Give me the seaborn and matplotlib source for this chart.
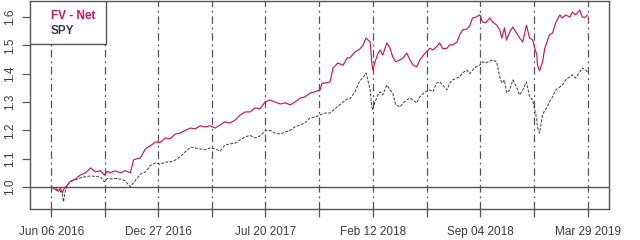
import matplotlib
matplotlib.use("Agg")
import matplotlib.pyplot as plt
import seaborn as sns
import pandas as pd
from matplotlib.patches import Rectangle

dates = [
    "2016-06-06", "2016-06-14", "2016-06-19", "2016-06-23", "2016-06-27", "2016-06-29", "2016-07-03",
    "2016-07-08", "2016-07-12", "2016-07-22", "2016-07-31", "2016-08-10", "2016-08-20", "2016-08-29",
    "2016-09-08", "2016-09-15", "2016-09-21", "2016-09-27", "2016-10-06", "2016-10-16", "2016-10-25",
    "2016-11-04", "2016-11-10", "2016-11-17", "2016-11-23", "2016-12-03", "2016-12-12", "2016-12-22",
    "2016-12-31", "2017-01-10", "2017-01-19", "2017-01-29", "2017-02-07", "2017-02-17", "2017-02-27",
    "2017-03-08", "2017-03-18", "2017-03-27", "2017-04-06", "2017-04-15", "2017-04-25", "2017-05-04",
    "2017-05-14", "2017-05-24", "2017-06-02", "2017-06-12", "2017-06-21", "2017-07-01", "2017-07-10",
    "2017-07-20", "2017-07-29", "2017-08-08", "2017-08-18", "2017-08-27", "2017-09-06", "2017-09-15",
    "2017-09-25", "2017-10-04", "2017-10-14", "2017-10-23", "2017-11-02", "2017-11-06", "2017-11-12",
    "2017-11-21", "2017-11-27", "2017-12-06", "2017-12-16", "2017-12-24", "2017-12-29", "2018-01-08",
    "2018-01-17", "2018-01-23", "2018-01-29", "2018-02-06", "2018-02-09", "2018-02-11", "2018-02-15",
    "2018-02-21", "2018-02-25", "2018-03-02", "2018-03-10", "2018-03-16", "2018-03-21", "2018-03-27",
    "2018-04-04", "2018-04-10", "2018-04-17", "2018-04-23", "2018-04-29", "2018-05-06", "2018-05-12",
    "2018-05-22", "2018-05-31", "2018-06-06", "2018-06-13", "2018-06-19", "2018-06-25", "2018-07-03",
    "2018-07-08", "2018-07-14", "2018-07-22", "2018-07-27", "2018-08-02", "2018-08-10", "2018-08-15",
    "2018-08-21", "2018-08-27", "2018-09-04", "2018-09-09", "2018-09-15", "2018-09-23", "2018-09-28",
    "2018-10-06", "2018-10-12", "2018-10-16", "2018-10-21", "2018-10-25", "2018-10-31", "2018-11-06",
    "2018-11-13", "2018-11-19", "2018-11-25", "2018-12-02", "2018-12-08", "2018-12-14", "2018-12-18",
    "2018-12-22", "2018-12-23", "2018-12-27", "2019-01-02", "2019-01-06", "2019-01-10", "2019-01-15",
    "2019-01-21", "2019-01-27", "2019-02-04", "2019-02-09", "2019-02-15", "2019-02-23", "2019-02-28",
    "2019-03-06", "2019-03-14", "2019-03-19", "2019-03-25", "2019-03-29",
]

fv_net = [
    1.000, 0.990, 0.985, 0.995, 0.980, 0.990, 1.000,
    1.010, 1.020, 1.028, 1.042, 1.050, 1.067, 1.053,
    1.057, 1.042, 1.055, 1.050, 1.057, 1.050, 1.057,
    1.050, 1.095, 1.100, 1.102, 1.135, 1.145, 1.159,
    1.157, 1.173, 1.170, 1.187, 1.190, 1.200, 1.208,
    1.205, 1.216, 1.212, 1.216, 1.208, 1.219, 1.230,
    1.226, 1.237, 1.254, 1.265, 1.265, 1.279, 1.276,
    1.300, 1.307, 1.300, 1.293, 1.297, 1.290, 1.300,
    1.314, 1.318, 1.332, 1.336, 1.343, 1.367, 1.367,
    1.371, 1.420, 1.438, 1.430, 1.456, 1.456, 1.477,
    1.487, 1.500, 1.526, 1.512, 1.440, 1.413, 1.440,
    1.473, 1.484, 1.466, 1.509, 1.490, 1.460, 1.442,
    1.449, 1.456, 1.473, 1.449, 1.431, 1.424, 1.449,
    1.473, 1.490, 1.484, 1.495, 1.509, 1.488, 1.490,
    1.502, 1.502, 1.512, 1.537, 1.555, 1.558, 1.568,
    1.597, 1.600, 1.608, 1.583, 1.580, 1.597, 1.583,
    1.572, 1.555, 1.526, 1.562, 1.519, 1.548, 1.565,
    1.544, 1.526, 1.512, 1.572, 1.526, 1.519, 1.490,
    1.466, 1.431, 1.410, 1.442, 1.490, 1.510, 1.537,
    1.544, 1.580, 1.608, 1.597, 1.608, 1.600, 1.618,
    1.608, 1.625, 1.600, 1.600, 1.608,
]

spy = [
    1.000, 0.995, 0.990, 0.985, 0.975, 0.947, 0.990,
    1.010, 1.018, 1.025, 1.032, 1.036, 1.039, 1.037,
    1.035, 1.018, 1.030, 1.028, 1.030, 1.028, 1.022,
    1.000, 1.015, 1.030, 1.045, 1.053, 1.075, 1.085,
    1.080, 1.088, 1.088, 1.095, 1.106, 1.124, 1.141,
    1.138, 1.134, 1.131, 1.138, 1.134, 1.127, 1.148,
    1.152, 1.155, 1.166, 1.177, 1.182, 1.173, 1.180,
    1.198, 1.200, 1.190, 1.187, 1.194, 1.200, 1.212,
    1.219, 1.226, 1.244, 1.247, 1.254, 1.258, 1.261,
    1.261, 1.270, 1.285, 1.300, 1.311, 1.311, 1.336,
    1.375, 1.385, 1.403, 1.343, 1.283, 1.272, 1.300,
    1.325, 1.336, 1.325, 1.360, 1.343, 1.332, 1.290,
    1.283, 1.297, 1.307, 1.314, 1.307, 1.297, 1.318,
    1.336, 1.343, 1.336, 1.367, 1.371, 1.360, 1.343,
    1.367, 1.378, 1.385, 1.389, 1.403, 1.413, 1.400,
    1.413, 1.424, 1.431, 1.442, 1.438, 1.445, 1.449,
    1.442, 1.389, 1.367, 1.378, 1.332, 1.343, 1.378,
    1.353, 1.325, 1.343, 1.371, 1.318, 1.307, 1.272,
    1.237, 1.212, 1.190, 1.255, 1.270, 1.280, 1.300,
    1.318, 1.343, 1.353, 1.360, 1.378, 1.389, 1.396,
    1.385, 1.406, 1.420, 1.413, 1.406,
]

series_names = ["FV - Net", "SPY"]
tick_dates = ["2016-06-06", "2016-12-27", "2017-07-20", "2018-02-12", "2018-09-04", "2019-03-29"]
tick_labels = ["Jun 06 2016", "Dec 27 2016", "Jul 20 2017", "Feb 12 2018", "Sep 04 2018", "Mar 29 2019"]
y_ticks = [1.0, 1.1, 1.2, 1.3, 1.4, 1.5, 1.6]

RED = "#C8175C"
GRAY = "#3c3c3c"
AXC = "#555555"

sns.set_style("white")
plt.rcParams["font.family"] = ["Liberation Sans", "DejaVu Sans"]

df = pd.DataFrame({"date": pd.to_datetime(dates), "FV - Net": fv_net, "SPY": spy})

fig = plt.figure(figsize=(6.4, 2.4), dpi=100)
ax = fig.add_axes([30 / 640, 1 - 209 / 240, 579 / 640, 208 / 240])

td = pd.to_datetime(tick_dates)
minor = [td[i] + (td[i + 1] - td[i]) / 2 for i in range(len(td) - 1)]
all_ticks = sorted(list(td) + minor)
for t in all_ticks:
    ax.axvline(t, color=AXC, lw=0.9, linestyle=(0, (6, 3, 1.5, 3)), zorder=1)
ax.axhline(1.0, color=AXC, lw=1.0, zorder=1)

sns.lineplot(data=df, x="date", y="SPY", ax=ax, color=GRAY, lw=0.7,
             linestyle=(0, (3, 1.5)), zorder=3, legend=False)
sns.lineplot(data=df, x="date", y="FV - Net", ax=ax, color=RED, lw=0.85, zorder=4, legend=False)

d0, d1 = df["date"].iloc[0], df["date"].iloc[-1]
pad = (d1 - d0) * 0.04
ax.set_xlim(d0 - pad, d1 + pad)
ax.set_ylim(0.922, 1.657)

ax.set_xticks(all_ticks)
lab_map = dict(zip(td, tick_labels))
ax.set_xticklabels([lab_map.get(t, "") for t in all_ticks])
ax.set_yticks(y_ticks)
ax.set_yticklabels([f"{v:.1f}" for v in y_ticks], rotation=90, va="center")
ax.tick_params(axis="both", direction="out", length=6, width=0.9, color=AXC,
               labelsize=8.5, labelcolor="#3a3a4a", left=True, bottom=True)
ax.tick_params(axis="x", pad=6)
ax.tick_params(axis="y", pad=4)
ax.set_xlabel("")
ax.set_ylabel("")
for s in ax.spines.values():
    s.set_color(AXC)
    s.set_linewidth(1.0)

ax.add_patch(Rectangle((0, 1 - 43 / 208), 76 / 579, 43 / 208, transform=ax.transAxes,
                       facecolor="white", edgecolor=AXC, lw=1.0, zorder=6))
ax.text(21 / 579, 1 - 15 / 208, series_names[0], transform=ax.transAxes, color=RED,
        fontsize=8.5, fontweight="bold", va="center", ha="left", zorder=7)
ax.text(21 / 579, 1 - 30 / 208, series_names[1], transform=ax.transAxes, color="#3a3a4a",
        fontsize=8.5, fontweight="bold", va="center", ha="left", zorder=7)

fig.savefig("out.png", dpi=100)
